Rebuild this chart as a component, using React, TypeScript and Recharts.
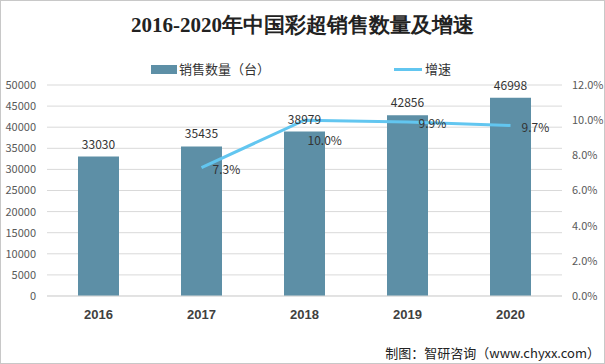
import { Bar, CartesianGrid, ComposedChart, LabelList, Line, XAxis, YAxis } from "recharts";

const years = ["2016", "2017", "2018", "2019", "2020"];
const salesUnits = [33030, 35435, 38979, 42856, 46998];
const growthRate: (number | null)[] = [null, 7.3, 10.0, 9.9, 9.7];
const leftTicks = [0, 5000, 10000, 15000, 20000, 25000, 30000, 35000, 40000, 45000, 50000];
const rightTicks = [0, 2, 4, 6, 8, 10, 12];

const data = years.map((year, i) => ({
  year,
  sales: salesUnits[i],
  growth: growthRate[i],
}));

const BAR_COLOR = "#5d8fa6";
const LINE_COLOR = "#62c6f0";
const FONT = "'Noto Sans CJK SC', 'Noto Sans', sans-serif";

const GrowthLabel = (props: any) => {
  const { x, y, index, value } = props;
  if (value == null) return null;
  // the 2018 label sits under its point, the others to the right
  const below = index === 2;
  return (
    <text
      x={x + (below ? 3 : 11)}
      y={y + (below ? 21 : 2)}
      dy="0.35em"
      fontSize={12}
      fill="#333"
      fontFamily={FONT}
    >
      {`${Number(value).toFixed(1)}%`}
    </text>
  );
};

export default function App() {
  return (
    <div
      style={{
        position: "absolute",
        left: 0,
        top: 0,
        width: 605,
        height: 364,
        boxSizing: "border-box",
        border: "1px solid #c8c8c8",
        background: "#fff",
      }}
    >
      <div
        style={{
          position: "absolute",
          top: 10,
          width: "100%",
          textAlign: "center",
          fontFamily: "'Liberation Serif', serif",
          fontWeight: "bold",
          fontSize: 21,
          color: "#222",
        }}
      >
        2016-2020年中国彩超销售数量及增速
      </div>
      <div style={{ position: "absolute", left: 0, top: 59, width: 603, height: 20, fontFamily: FONT, fontSize: 13, color: "#333" }}>
        <div style={{ position: "absolute", left: 150, top: 5, width: 26, height: 9, background: BAR_COLOR }} />
        <div style={{ position: "absolute", left: 178, top: 0, lineHeight: "18px" }}>销售数量（台）</div>
        <div style={{ position: "absolute", left: 393, top: 8, width: 28, height: 3, background: LINE_COLOR }} />
        <div style={{ position: "absolute", left: 424, top: 0, lineHeight: "18px" }}>增速</div>
      </div>
      <ComposedChart
        width={603}
        height={362}
        data={data}
        margin={{ top: 84, right: 0, bottom: 37, left: -1 }}
        style={{ position: "absolute", left: 0, top: 0 }}
      >
        <CartesianGrid yAxisId="left" vertical={false} stroke="#d9d9d9" />
        <XAxis
          dataKey="year"
          axisLine={{ stroke: "#d9d9d9" }}
          tickLine={false}
          tickMargin={8}
          height={30}
          tick={{ fontSize: 13, fontWeight: "bold", fill: "#404040", fontFamily: "'Liberation Sans', sans-serif" }}
        />
        <YAxis
          yAxisId="left"
          width={47}
          domain={[0, 50000]}
          ticks={leftTicks}
          axisLine={false}
          tickLine={false}
          tickMargin={5}
          interval={0}
          tick={{ fontSize: 11, fill: "#595959", fontFamily: FONT }}
        />
        <YAxis
          yAxisId="right"
          orientation="right"
          width={42}
          domain={[0, 12]}
          ticks={rightTicks}
          axisLine={false}
          tickLine={false}
          tickMargin={4}
          interval={0}
          tickFormatter={(v: number) => `${v.toFixed(1)}%`}
          tick={{ fontSize: 11, fill: "#595959", fontFamily: FONT }}
        />
        <Bar yAxisId="left" dataKey="sales" fill={BAR_COLOR} barSize={41} isAnimationActive={false}>
          <LabelList
            dataKey="sales"
            position="top"
            offset={8}
            style={{ fontSize: 12, fill: "#333", fontFamily: FONT }}
          />
        </Bar>
        <Line
          yAxisId="right"
          dataKey="growth"
          stroke={LINE_COLOR}
          strokeWidth={3}
          dot={false}
          activeDot={false}
          connectNulls={false}
          isAnimationActive={false}
        >
          <LabelList dataKey="growth" content={<GrowthLabel />} />
        </Line>
      </ComposedChart>
      <div
        style={{
          position: "absolute",
          right: 4,
          top: 342,
          fontFamily: FONT,
          fontSize: 13,
          color: "#222",
        }}
      >
        制图：智研咨询（www.chyxx.com）
      </div>
    </div>
  );
}
